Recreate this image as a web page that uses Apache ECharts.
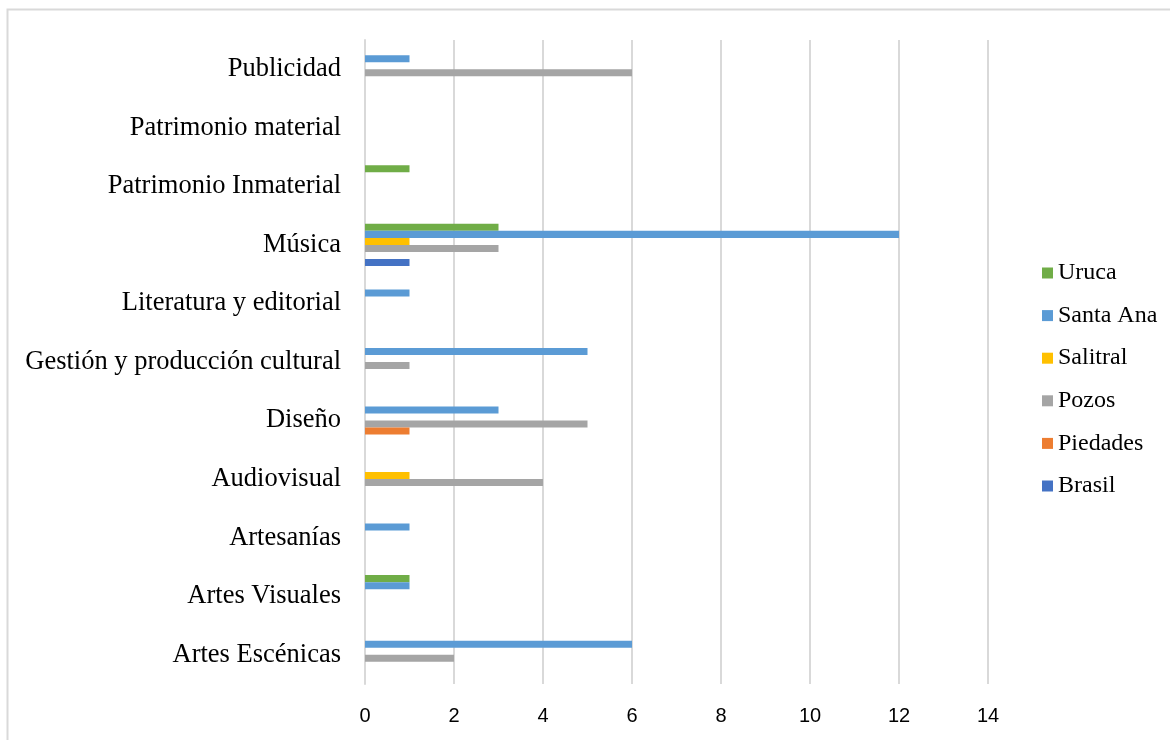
<!DOCTYPE html>
<html>
<head>
<meta charset="utf-8">
<script src="https://cdn.jsdelivr.net/npm/echarts@6/dist/echarts.min.js"></script>
<style>
  html, body { margin: 0; padding: 0; background: #fff; }
  #chart { width: 1170px; height: 740px; }
</style>
</head>
<body>
<div id="chart"></div>
<script>
// Disciplinas culturales por distrito (cantidad)
const categories = [
  'Artes Escénicas', 'Artes Visuales', 'Artesanías', 'Audiovisual', 'Diseño',
  'Gestión y producción cultural', 'Literatura y editorial', 'Música',
  'Patrimonio Inmaterial', 'Patrimonio material', 'Publicidad'
];
const brasil   = [0, 0, 0, 0, 0, 0, 0, 1, 0, 0, 0];
const piedades = [0, 0, 0, 0, 1, 0, 0, 0, 0, 0, 0];
const pozos    = [2, 0, 0, 4, 5, 1, 0, 3, 0, 0, 6];
const salitral = [0, 0, 0, 1, 0, 0, 0, 1, 0, 0, 0];
const santaAna = [6, 1, 1, 0, 3, 5, 1, 12, 0, 0, 1];
const uruca    = [0, 1, 0, 0, 0, 0, 0, 3, 1, 0, 0];
const xTicks   = [0, 2, 4, 6, 8, 10, 12, 14];

// Listed top-to-bottom within each category band
const seriesDefs = [
  { name: 'Uruca', data: uruca, color: '#70AD47' },
  { name: 'Santa Ana', data: santaAna, color: '#5B9BD5' },
  { name: 'Salitral', data: salitral, color: '#FFC000' },
  { name: 'Pozos', data: pozos, color: '#A5A5A5' },
  { name: 'Piedades', data: piedades, color: '#ED7D31' },
  { name: 'Brasil', data: brasil, color: '#4472C4' }
];

const chart = echarts.init(document.getElementById('chart'));
chart.setOption({
  animation: false,
  backgroundColor: '#fff',
  graphic: [{
    type: 'rect',
    shape: { x: 7.5, y: 9.5, width: 1200, height: 800 },
    style: { fill: 'none', stroke: '#D9D9D9', lineWidth: 2 },
    silent: true
  }],
  grid: { left: 365, right: 182, top: 40, bottom: 56, containLabel: false },
  legend: {
    orient: 'vertical',
    left: 1037,
    top: 256,
    itemGap: 18.6,
    itemWidth: 11,
    itemHeight: 11,
    icon: 'rect',
    data: ['Uruca', 'Santa Ana', 'Salitral', 'Pozos', 'Piedades', 'Brasil'],
    textStyle: { fontFamily: 'Liberation Serif', fontSize: 24, color: '#000' }
  },
  xAxis: {
    type: 'value',
    min: 0,
    max: 14,
    interval: 2,
    axisLine: { show: false },
    axisTick: { show: false },
    splitLine: { lineStyle: { color: '#D9D9D9', width: 2 } },
    axisLabel: {
      fontFamily: 'Liberation Sans',
      fontSize: 20,
      color: '#000',
      margin: 22,
      formatter: v => xTicks.includes(v) ? String(v) : ''
    }
  },
  yAxis: {
    type: 'category',
    data: categories,
    axisLine: { show: true, lineStyle: { color: '#D9D9D9', width: 2 } },
    axisTick: { show: false },
    axisLabel: { fontFamily: 'Liberation Serif', fontSize: 26.5, color: '#000', margin: 24 }
  },
  series: seriesDefs.map(s => ({
    name: s.name,
    type: 'bar',
    data: s.data,
    barGap: '0%',
    barCategoryGap: '28%',
    itemStyle: { color: s.color }
  }))
});
</script>
</body>
</html>
